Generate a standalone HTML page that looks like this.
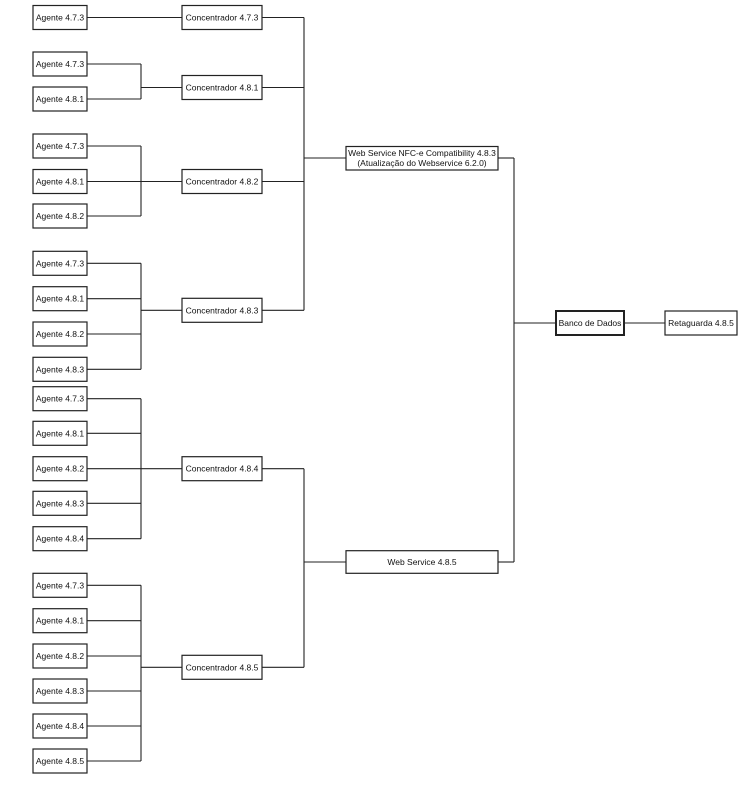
<!DOCTYPE html>
<html><head><meta charset="utf-8"><style>
html,body{margin:0;padding:0;background:#fff;}
svg{display:block;}
text{font-family:"Liberation Sans",sans-serif;font-size:8.5px;fill:#111;text-anchor:middle;}
rect{fill:#fff;stroke:#222;stroke-width:1.2;}
line{stroke:#222;stroke-width:1.1;}
</style></head><body>
<svg width="740" height="786" viewBox="0 0 740 786" xmlns="http://www.w3.org/2000/svg">
<!-- connectors -->
<line x1="87" y1="17.5" x2="182" y2="17.5"/>
<line x1="87" y1="64" x2="141" y2="64"/><line x1="87" y1="99" x2="141" y2="99"/><line x1="141" y1="64" x2="141" y2="99"/><line x1="141" y1="87.5" x2="182" y2="87.5"/>
<line x1="87" y1="146" x2="141" y2="146"/><line x1="87" y1="181.5" x2="141" y2="181.5"/><line x1="87" y1="216" x2="141" y2="216"/><line x1="141" y1="146" x2="141" y2="216"/><line x1="141" y1="181.5" x2="182" y2="181.5"/>
<line x1="87" y1="263.3" x2="141" y2="263.3"/><line x1="87" y1="298.7" x2="141" y2="298.7"/><line x1="87" y1="334" x2="141" y2="334"/><line x1="87" y1="369.3" x2="141" y2="369.3"/><line x1="141" y1="263.3" x2="141" y2="369.3"/><line x1="141" y1="310.3" x2="182" y2="310.3"/>
<line x1="87" y1="398.7" x2="141" y2="398.7"/><line x1="87" y1="433.3" x2="141" y2="433.3"/><line x1="87" y1="468.7" x2="182" y2="468.7"/><line x1="87" y1="503.3" x2="141" y2="503.3"/><line x1="87" y1="538.7" x2="141" y2="538.7"/><line x1="141" y1="398.7" x2="141" y2="538.7"/>
<line x1="87" y1="585.3" x2="141" y2="585.3"/><line x1="87" y1="620.7" x2="141" y2="620.7"/><line x1="87" y1="656" x2="141" y2="656"/><line x1="87" y1="691" x2="141" y2="691"/><line x1="87" y1="726" x2="141" y2="726"/><line x1="87" y1="761" x2="141" y2="761"/><line x1="141" y1="585.3" x2="141" y2="761"/><line x1="141" y1="667.3" x2="182" y2="667.3"/>
<line x1="262" y1="17.5" x2="304" y2="17.5"/><line x1="262" y1="87.5" x2="304" y2="87.5"/><line x1="262" y1="181.5" x2="304" y2="181.5"/><line x1="262" y1="310.3" x2="304" y2="310.3"/><line x1="304" y1="17.5" x2="304" y2="310.3"/><line x1="304" y1="158" x2="346" y2="158"/>
<line x1="262" y1="468.7" x2="304" y2="468.7"/><line x1="262" y1="667.3" x2="304" y2="667.3"/><line x1="304" y1="468.7" x2="304" y2="667.3"/><line x1="304" y1="562" x2="346" y2="562"/>
<line x1="498" y1="158" x2="514" y2="158"/><line x1="498" y1="562" x2="514" y2="562"/><line x1="514" y1="158" x2="514" y2="562"/><line x1="514" y1="323" x2="556" y2="323"/><line x1="624" y1="323" x2="665" y2="323"/>
<!-- agents -->
<g>
<rect x="33" y="5.5" width="54" height="24"/><text x="60" y="20.5">Agente 4.7.3</text>
<rect x="33" y="52" width="54" height="24"/><text x="60" y="67">Agente 4.7.3</text>
<rect x="33" y="87" width="54" height="24"/><text x="60" y="102">Agente 4.8.1</text>
<rect x="33" y="134" width="54" height="24"/><text x="60" y="149">Agente 4.7.3</text>
<rect x="33" y="169.5" width="54" height="24"/><text x="60" y="184.5">Agente 4.8.1</text>
<rect x="33" y="204" width="54" height="24"/><text x="60" y="219">Agente 4.8.2</text>
<rect x="33" y="251.3" width="54" height="24"/><text x="60" y="266.3">Agente 4.7.3</text>
<rect x="33" y="286.7" width="54" height="24"/><text x="60" y="301.7">Agente 4.8.1</text>
<rect x="33" y="322" width="54" height="24"/><text x="60" y="337">Agente 4.8.2</text>
<rect x="33" y="357.3" width="54" height="24"/><text x="60" y="372.3">Agente 4.8.3</text>
<rect x="33" y="386.7" width="54" height="24"/><text x="60" y="401.7">Agente 4.7.3</text>
<rect x="33" y="421.3" width="54" height="24"/><text x="60" y="436.3">Agente 4.8.1</text>
<rect x="33" y="456.7" width="54" height="24"/><text x="60" y="471.7">Agente 4.8.2</text>
<rect x="33" y="491.3" width="54" height="24"/><text x="60" y="506.3">Agente 4.8.3</text>
<rect x="33" y="526.7" width="54" height="24"/><text x="60" y="541.7">Agente 4.8.4</text>
<rect x="33" y="573.3" width="54" height="24"/><text x="60" y="588.3">Agente 4.7.3</text>
<rect x="33" y="608.7" width="54" height="24"/><text x="60" y="623.7">Agente 4.8.1</text>
<rect x="33" y="644" width="54" height="24"/><text x="60" y="659">Agente 4.8.2</text>
<rect x="33" y="679" width="54" height="24"/><text x="60" y="694">Agente 4.8.3</text>
<rect x="33" y="714" width="54" height="24"/><text x="60" y="729">Agente 4.8.4</text>
<rect x="33" y="749" width="54" height="24"/><text x="60" y="764">Agente 4.8.5</text>
</g>
<!-- concentrators -->
<rect x="182" y="5.5" width="80" height="24"/><text x="222" y="20.5">Concentrador 4.7.3</text>
<rect x="182" y="75.5" width="80" height="24"/><text x="222" y="90.5">Concentrador 4.8.1</text>
<rect x="182" y="169.5" width="80" height="24"/><text x="222" y="184.5">Concentrador 4.8.2</text>
<rect x="182" y="298.3" width="80" height="24"/><text x="222" y="313.3">Concentrador 4.8.3</text>
<rect x="182" y="456.7" width="80" height="24"/><text x="222" y="471.7">Concentrador 4.8.4</text>
<rect x="182" y="655.3" width="80" height="24"/><text x="222" y="670.3">Concentrador 4.8.5</text>
<!-- web services -->
<rect x="346" y="146.5" width="152" height="23.5"/>
<text x="422" y="156">Web Service NFC-e Compatibility 4.8.3</text>
<text x="422" y="166">(Atualização do Webservice 6.2.0)</text>
<rect x="346" y="550.7" width="152" height="22.6"/><text x="422" y="565">Web Service 4.8.5</text>
<rect x="556" y="311" width="68" height="24" style="stroke-width:2"/><text x="590" y="326">Banco de Dados</text>
<rect x="665" y="311" width="72" height="24"/><text x="701" y="326">Retaguarda 4.8.5</text>
</svg>
</body></html>
